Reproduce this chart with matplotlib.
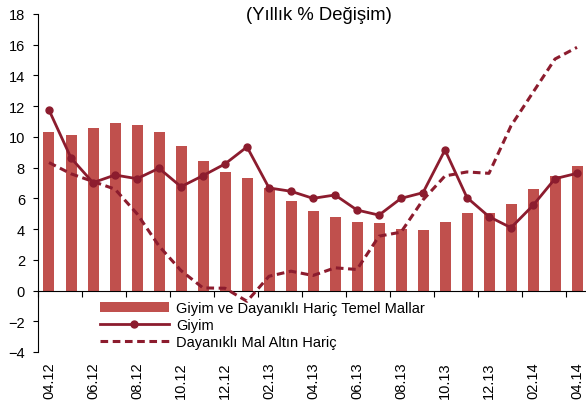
import numpy as np
import matplotlib
matplotlib.use('Agg')
import matplotlib.pyplot as plt

plt.rcParams['font.family'] = ['Liberation Sans', 'DejaVu Sans']

# aylar 04.12 - 04.14
months = ['04.12', '05.12', '06.12', '07.12', '08.12', '09.12', '10.12', '11.12', '12.12',
          '01.13', '02.13', '03.13', '04.13', '05.13', '06.13', '07.13', '08.13', '09.13',
          '10.13', '11.13', '12.13', '01.14', '02.14', '03.14', '04.14']

temel = [10.3, 10.1, 10.55, 10.9, 10.75, 10.3, 9.4, 8.4, 7.7, 7.35, 6.7, 5.8, 5.15,
         4.8, 4.48, 4.37, 3.98, 3.92, 4.46, 5.02, 5.07, 5.65, 6.6, 7.45, 8.1]
giyim = [11.75, 8.63, 7.02, 7.52, 7.28, 7.96, 6.76, 7.48, 8.24, 9.35, 6.68, 6.46, 6.0,
         6.22, 5.24, 4.91, 6.0, 6.37, 9.15, 6.05, 4.81, 4.09, 5.54, 7.28, 7.63]
dayanikli = [8.33, 7.6, 7.1, 6.6, 5.0, 2.9, 1.3, 0.17, 0.15, -0.7, 0.93, 1.26, 0.98,
             1.48, 1.37, 3.54, 3.8, 5.9, 7.46, 7.72, 7.63, 10.72, 12.9, 15.07, 15.83]

bar_color = '#C0504D'
line_color = '#8C1C2E'

x = np.arange(len(months))

fig = plt.figure(figsize=(5.86, 4.10), dpi=100)
ax = fig.add_axes([38/586, 1-353/410, 550/586, (353-15)/410])

b = ax.bar(x, temel, width=0.5, color=bar_color, zorder=2)
l1, = ax.plot(x, giyim, color=line_color, lw=2, marker='o', ms=5, zorder=4)
l2, = ax.plot(x, dayanikli, color=line_color, lw=2.2, ls=(0, (2.5, 1.5)), zorder=3)

ax.set_xlim(-0.5, len(months) - 0.5)
ax.set_ylim(-4, 18)
ax.set_yticks(np.arange(-4, 19, 2))
ax.tick_params(axis='y', direction='out', length=3.6, width=0.8, pad=5.8, labelsize=10.5)

# x ekseni 0 cizgisinde, etiketler altta
for s in ['top', 'right']:
    ax.spines[s].set_visible(False)
ax.spines['bottom'].set_position(('data', 0))
ax.set_xticks(np.arange(-0.5, len(months), 2))
ax.set_xticklabels([])
ax.tick_params(axis='x', direction='out', length=4.3, width=0.8)

sec = ax.secondary_xaxis('bottom')
sec.set_xticks(x[::2], months[::2], rotation=90)
sec.tick_params(length=0, pad=7, labelsize=10.5)
sec.spines['bottom'].set_visible(False)

fig.text(319/586, 1-16/410, '(Yıllık % Değişim)', ha='center', va='center', fontsize=13.3)

ax.legend([b, l1, l2],
          ['Giyim ve Dayanıklı Hariç Temel Mallar', 'Giyim', 'Dayanıklı Mal Altın Hariç'],
          loc='upper left', bbox_to_anchor=(100/586, 1-302/410), bbox_transform=fig.transFigure,
          frameon=False, fontsize=10.5, handlelength=4.7, handletextpad=0.5,
          labelspacing=0.2, borderpad=0, borderaxespad=0)

plt.savefig('out.png', dpi=100)
plt.close('all')
